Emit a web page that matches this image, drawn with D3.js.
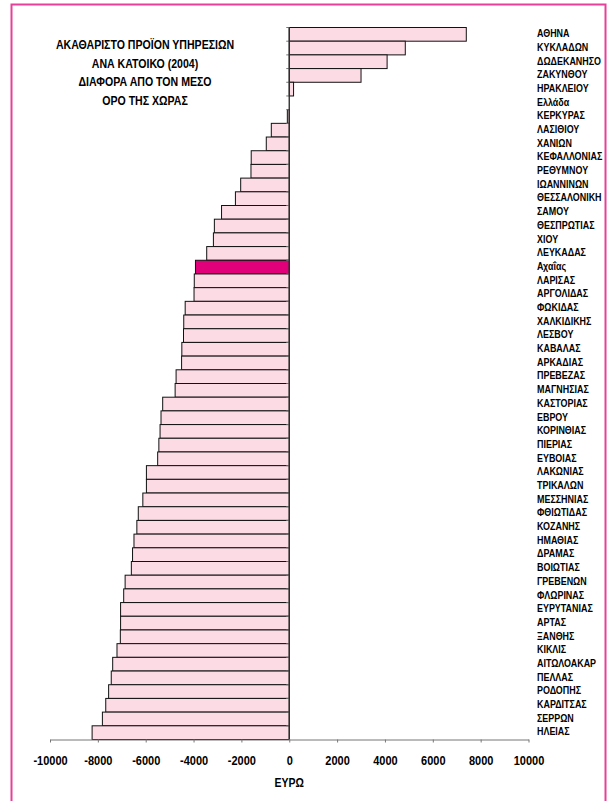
<!DOCTYPE html>
<html>
<head>
<meta charset="utf-8">
<script src="https://cdn.jsdelivr.net/npm/d3@7"></script>
<style>
  html, body { margin: 0; padding: 0; background: #fff; }
  svg { display: block; }
  text { font-family: "Liberation Sans", Arial, sans-serif; font-weight: bold; fill: #000; }
</style>
</head>
<body>
<script>
const categories = [
  "ΑΘΗΝΑ","ΚΥΚΛΑΔΩΝ","ΔΩΔΕΚΑΝΗΣΟ","ΖΑΚΥΝΘΟΥ","ΗΡΑΚΛΕΙΟΥ","Ελλάδα","ΚΕΡΚΥΡΑΣ","ΛΑΣΙΘΙΟΥ","ΧΑΝΙΩΝ",
  "ΚΕΦΑΛΛΟΝΙΑΣ","ΡΕΘΥΜΝΟΥ","ΙΩΑΝΝΙΝΩΝ","ΘΕΣΣΑΛΟΝΙΚΗ","ΣΑΜΟΥ","ΘΕΣΠΡΩΤΙΑΣ","ΧΙΟΥ","ΛΕΥΚΑΔΑΣ","Αχαΐας",
  "ΛΑΡΙΣΑΣ","ΑΡΓΟΛΙΔΑΣ","ΦΩΚΙΔΑΣ","ΧΑΛΚΙΔΙΚΗΣ","ΛΕΣΒΟΥ","ΚΑΒΑΛΑΣ","ΑΡΚΑΔΙΑΣ","ΠΡΕΒΕΖΑΣ","ΜΑΓΝΗΣΙΑΣ",
  "ΚΑΣΤΟΡΙΑΣ","ΕΒΡΟΥ","ΚΟΡΙΝΘΙΑΣ","ΠΙΕΡΙΑΣ","ΕΥΒΟΙΑΣ","ΛΑΚΩΝΙΑΣ","ΤΡΙΚΑΛΩΝ","ΜΕΣΣΗΝΙΑΣ","ΦΘΙΩΤΙΔΑΣ",
  "ΚΟΖΑΝΗΣ","ΗΜΑΘΙΑΣ","ΔΡΑΜΑΣ","ΒΟΙΩΤΙΑΣ","ΓΡΕΒΕΝΩΝ","ΦΛΩΡΙΝΑΣ","ΕΥΡΥΤΑΝΙΑΣ","ΑΡΤΑΣ","ΞΑΝΘΗΣ",
  "ΚΙΚΛΙΣ","ΑΙΤΩΛΟΑΚΑΡ","ΠΕΛΛΑΣ","ΡΟΔΟΠΗΣ","ΚΑΡΔΙΤΣΑΣ","ΣΕΡΡΩΝ","ΗΛΕΙΑΣ"
];
const values = [
  7400, 4850, 4090, 3000, 180, 0, -80, -750, -960,
  -1590, -1600, -2030, -2250, -2830, -3130, -3170, -3450, -3920,
  -3970, -3980, -4350, -4410, -4420, -4490, -4500, -4730, -4770,
  -5290, -5360, -5400, -5450, -5500, -5970, -5970, -6120, -6310,
  -6370, -6490, -6550, -6600, -6860, -6920, -7050, -7050, -7060,
  -7200, -7380, -7440, -7550, -7670, -7810, -8240
];
const highlight = "Αχαΐας";
const xTicks = [-10000, -8000, -6000, -4000, -2000, 0, 2000, 4000, 6000, 8000, 10000];
const titleLines = ["ΑΚΑΘΑΡΙΣΤΟ ΠΡΟΪΟΝ ΥΠΗΡΕΣΙΩΝ", "ΑΝΑ ΚΑΤΟΙΚΟ (2004)", "ΔΙΑΦΟΡΑ ΑΠΟ ΤΟΝ ΜΕΣΟ", "ΟΡΟ ΤΗΣ ΧΩΡΑΣ"];
const xTitle = "ΕΥΡΩ";

const W = 610, H = 801;
const NARROW = 0.82;
const svg = d3.select("body").append("svg").attr("width", W).attr("height", H);

// frame
svg.append("rect").attr("x", 11.5).attr("y", 4.5).attr("width", 594).attr("height", 820)
  .attr("fill", "none").attr("stroke", "#e8409a").attr("stroke-width", 2);

const x = d3.scaleLinear().domain([-10000, 10000]).range([50, 528.5]);
const y = d3.scaleBand().domain(categories).range([27.5, 739.5]).padding(0);

const data = categories.map((c, i) => ({ c, v: values[i] }));

// bars
svg.append("g").selectAll("rect").data(data).join("rect")
  .attr("x", d => Math.min(x(0), x(d.v)))
  .attr("y", d => y(d.c))
  .attr("width", d => Math.abs(x(d.v) - x(0)))
  .attr("height", y.bandwidth())
  .attr("fill", d => d.c === highlight ? "#e2007a" : "#fcdbe5")
  .attr("stroke", d => d.v === 0 ? "none" : "#111")
  .attr("stroke-width", 1);

// vertical category axis at zero with ticks at band boundaries
const vAxis = svg.append("g").attr("stroke", "#777").attr("stroke-width", 1);
vAxis.append("line")
  .attr("x1", x(0)).attr("x2", x(0))
  .attr("y1", y.range()[0]).attr("y2", y.range()[1]);
vAxis.selectAll("line.tk").data(categories).join("line").attr("class", "tk")
  .attr("x1", x(0) - 3).attr("x2", x(0))
  .attr("y1", d => y(d)).attr("y2", d => y(d));
svg.append("line")
  .attr("x1", x(0)).attr("x2", x(0))
  .attr("y1", y.range()[0]).attr("y2", y.range()[1])
  .attr("stroke", "#111").attr("stroke-width", 1.2)
  .attr("stroke-opacity", 0.8);

// x axis
const xAxis = d3.axisBottom(x).tickValues(xTicks).tickSize(3).tickSizeOuter(0).tickPadding(14)
  .tickFormat(d => String(d));
const gx = svg.append("g").attr("transform", `translate(0,${y.range()[1]})`).call(xAxis);
gx.select(".domain").attr("stroke", "#777");
gx.selectAll(".tick line").attr("stroke", "#777");
gx.selectAll(".tick text").attr("font-size", 12.5).attr("fill", "#000")
  .attr("font-family", "'Liberation Sans', Arial, sans-serif")
  .attr("font-weight", "bold")
  .attr("transform", "scale(0.88,1)");

svg.append("text").attr("transform", `translate(${x(0)},787) scale(${NARROW},1)`)
  .attr("text-anchor", "middle")
  .attr("font-size", 12.8).text(xTitle);

// category labels on right
svg.append("g").selectAll("text").data(categories).join("text")
  .attr("transform", d => `translate(537,${y(d) + y.bandwidth() / 2 - 1}) scale(${NARROW},1)`)
  .attr("dy", "0.35em")
  .attr("font-size", 10.9)
  .text(d => d);

// title
svg.append("g").selectAll("text").data(titleLines).join("text")
  .attr("transform", (d, i) => `translate(145,${49 + i * 18.6}) scale(${NARROW},1)`)
  .attr("text-anchor", "middle")
  .attr("font-size", 12.9)
  .text(d => d);
</script>
</body>
</html>
